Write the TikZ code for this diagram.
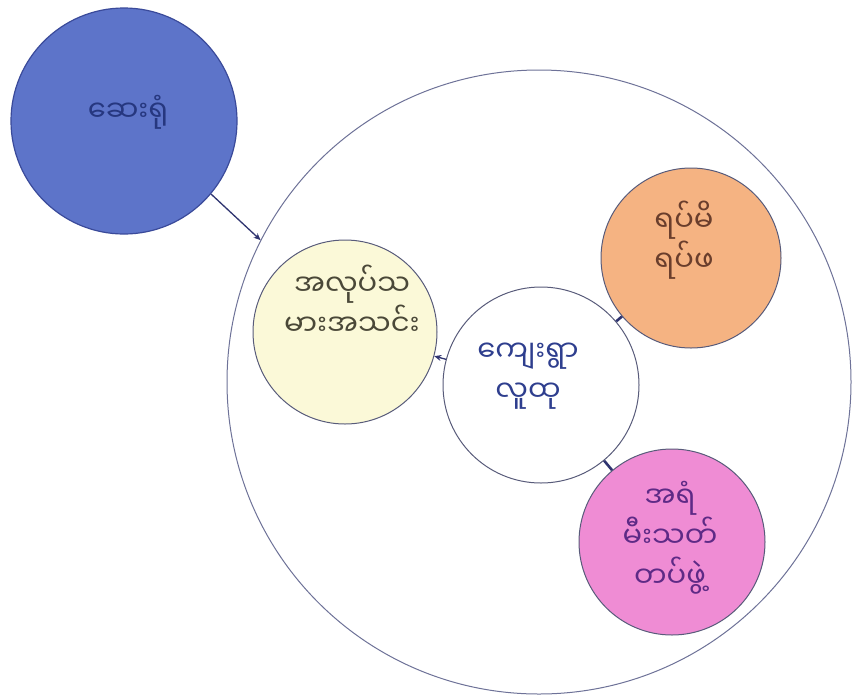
\documentclass[tikz,border=0pt]{standalone}
\usepackage{fontspec}
\newfontfamily\myan[Script=Myanmar]{Noto Sans Myanmar UI}
\usetikzlibrary{arrows.meta}
\definecolor{bluefill}{HTML}{5D74C9}
\definecolor{blueline}{HTML}{3A4A9A}
\definecolor{yelfill}{HTML}{FBF9D8}
\definecolor{orfill}{HTML}{F5B382}
\definecolor{pkfill}{HTML}{EF8CD4}
\definecolor{ring}{HTML}{6E7298}
\definecolor{bluetxt}{HTML}{26377F}
\definecolor{yeltxt}{HTML}{4A4838}
\definecolor{ctrtxt}{HTML}{2E3E8E}
\definecolor{ortxt}{HTML}{6A3E2C}
\definecolor{pktxt}{HTML}{5E2A86}
\definecolor{link}{HTML}{2F3470}
\tikzset{
  bubble/.style={circle, draw=ring, line width=1pt, inner sep=0pt},
  label text/.style={align=center, font=\myan\fontsize{29}{40}\selectfont},
  link line/.style={draw=link, line width=1.3pt},
  tick line/.style={draw=link, line width=2.6pt}
}
\begin{document}
\begin{tikzpicture}[x=1pt,y=-1pt]
\fill[white] (0,0) rectangle (854,697);
\useasboundingbox (0,0) rectangle (854,697);
% big ring
\node[bubble, minimum size=624pt] (big) at (539,382) {};
% circles
\node[bubble, draw=blueline, fill=bluefill, minimum size=226pt, line width=1.2pt] (hosp) at (124,121) {};
\node[bubble, fill=yelfill, minimum size=184pt, draw=ring!80!black] (union) at (345,332) {};
\node[bubble, fill=white, minimum size=196pt, draw=ring!80!black] (village) at (541,385) {};
\node[bubble, fill=orfill, minimum size=180pt, draw=ring!80!black] (elders) at (691,258) {};
\node[bubble, fill=pkfill, minimum size=186pt, draw=ring!80!black] (fire) at (672,542) {};
% texts
\node[label text, text=bluetxt] (hosptext) at (128,112) {ဆေးရုံ};
\node[label text, text=yeltxt] (uniontext) at (352,300) {အလုပ်သ\\မားအသင်း};
\node[label text, text=ctrtxt] (villagetext) at (528,376) {ကျေးရွာ\\လူထု};
\node[label text, text=ortxt] (elderstext) at (684,240) {ရပ်မိ\\ရပ်ဖ};
\node[label text, text=pktxt] (firetext) at (670,538) {အရံ\\မီးသတ်\\တပ်ဖွဲ့};
% connectors
\draw[link line, -{Stealth[length=7pt,width=6pt]}] (hosp.-40) -- (big.153);
\draw[link line, -{Stealth[length=7pt,width=6pt]}] (village) -- (union);
\draw[tick line] (village) -- (elders);
\draw[tick line] (village) -- (fire);
\end{tikzpicture}
\end{document}
